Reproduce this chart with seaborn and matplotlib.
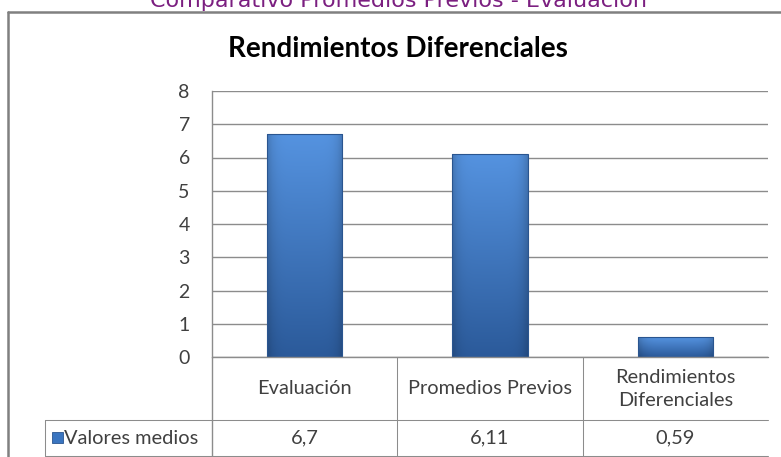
import numpy as np
import pandas as pd
import matplotlib
matplotlib.use("Agg")
import matplotlib.pyplot as plt
import seaborn as sns
from matplotlib.transforms import blended_transform_factory
from matplotlib.lines import Line2D
from matplotlib.patches import Rectangle

# ---- data ----
categories = ["Evaluación", "Promedios Previos", "Rendimientos\nDiferenciales"]
values = [6.7, 6.11, 0.59]
series_name = "Valores medios"
y_ticks = [0, 1, 2, 3, 4, 5, 6, 7, 8]
chart_title = "Rendimientos Diferenciales"
page_title = "Comparativo Promedios Previos - Evaluación"

sns.set_theme(style="white")
plt.rcParams["font.family"] = ["Lato", "DejaVu Sans"]

W, H = 781, 457
fig = plt.figure(figsize=(W / 100, H / 100), dpi=100)
fig.patch.set_facecolor("white")

def fx(px):
    return px / W

def fy(py):
    return 1 - py / H

ax = fig.add_axes([fx(212), fy(357), 556 / W, 266 / H])
df = pd.DataFrame({"cat": categories, "val": values})
sns.barplot(data=df, x="cat", y="val", ax=ax, width=0.405, color="#3a75c0",
            saturation=1, edgecolor="#2a558f", linewidth=0.8)

GRID = "#8c8c8c"
ax.set_xlim(-0.5, 2.5)
ax.set_ylim(0, 8)
ax.set_yticks(y_ticks)
ax.set_yticklabels([str(t) for t in y_ticks])
ax.yaxis.grid(True, color=GRID, lw=1.0)
ax.xaxis.grid(False)
ax.set_axisbelow(True)
for s in ["top", "right", "bottom"]:
    ax.spines[s].set_visible(False)
ax.spines["left"].set_color(GRID)
ax.spines["left"].set_linewidth(1.0)
ax.tick_params(axis="y", length=0, pad=16, labelsize=14, labelcolor="#404040")
ax.set_xticks([])
ax.set_xlabel("")
ax.set_ylabel("")
ax.set_facecolor("white")
ax.axhline(0, color=GRID, lw=1.0, clip_on=False, zorder=5)

# gradient fill for bars
top_c = np.array([0x55, 0x93, 0xE0]) / 255
bot_c = np.array([0x2B, 0x5A, 0x9A]) / 255
ny, nx = 200, 60
t = np.linspace(0, 1, ny)[:, None, None]
grad = top_c * (1 - t) + bot_c * t
grad = np.repeat(grad, nx, axis=1)
xs = np.linspace(-1, 1, nx)[None, :, None]
grad = grad * (1 - 0.18 * np.abs(xs) ** 6)
grad = np.clip(grad, 0, 1)

for p in ax.patches:
    x0, y0, w, h = p.get_x(), p.get_y(), p.get_width(), p.get_height()
    im = ax.imshow(grad, extent=[x0, x0 + w, y0, y0 + h], aspect="auto",
                   origin="upper", zorder=p.get_zorder() - 0.01)
    im.set_clip_path(p)
    p.set_facecolor("none")
ax.set_xlim(-0.5, 2.5)
ax.set_ylim(0, 8)

# ---- data table below ----
def ay(py):
    return (357 - py) / 266

def ax_x(px):
    return (px - 212) / 556

bt = blended_transform_factory(ax.transData, ax.transAxes)
TXT = "#404040"
LW = 0.75
FS = 14.4

for py, xa in [(420, 45), (456, 45)]:
    ax.plot([ax_x(xa), 1.0], [ay(py), ay(py)], transform=ax.transAxes,
            color=GRID, lw=LW, clip_on=False)
ax.plot([ax_x(45), ax_x(45)], [ay(420), ay(456)], transform=ax.transAxes,
        color=GRID, lw=LW, clip_on=False)
ax.plot([0, 0], [0, ay(456)], transform=ax.transAxes, color=GRID, lw=1.0, clip_on=False)
for b in [0.5, 1.5]:
    ax.plot([b, b], [0, ay(456)], transform=bt, color=GRID, lw=LW, clip_on=False)

for i, (cat, v) in enumerate(zip(categories, values)):
    ax.text(i, ay(389), cat, transform=bt, ha="center", va="center",
            fontsize=FS, color=TXT, linespacing=1.4, clip_on=False)
    ax.text(i, ay(438), f"{v:g}".replace(".", ","), transform=bt, ha="center",
            va="center", fontsize=FS, color=TXT, clip_on=False)

ax.text(ax_x(64), ay(438), series_name, transform=ax.transAxes, ha="left",
        va="center", fontsize=FS, color=TXT, clip_on=False)
fig.patches.append(Rectangle((fx(52), fy(443)), 11 / W, 11 / H, transform=fig.transFigure,
                             facecolor="#3a75c0", edgecolor="#2a558f", lw=0.6))

# ---- outer frame ----
FRAME = "#808080"
fig.lines.append(Line2D([fx(8), fx(8)], [fy(12), fy(460)], transform=fig.transFigure,
                        color=FRAME, lw=1.8))
fig.lines.append(Line2D([fx(8), fx(790)], [fy(12), fy(12)], transform=fig.transFigure,
                        color=FRAME, lw=1.8))

# ---- titles ----
fig.text(fx(398), fy(57), chart_title, ha="center", va="baseline",
         fontsize=20, fontweight="bold", color="black")
fig.text(fx(399), fy(7), page_title, ha="center", va="baseline",
         fontsize=16, color="#7B1F80", family=["DejaVu Sans"])

fig.savefig("out.png", dpi=100)
